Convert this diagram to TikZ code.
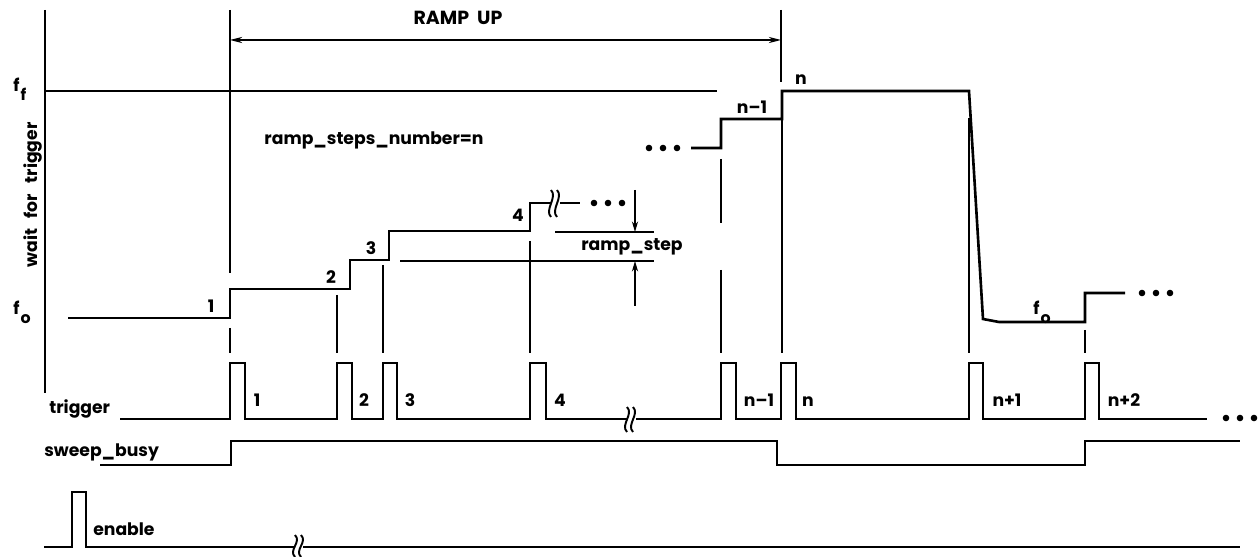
\documentclass[tikz,border=0pt]{standalone}
\usepackage{fontspec}
\setmainfont{Poppins}
\usetikzlibrary{arrows.meta}
\newcommand\brkmark[3]{%
  \draw[line width=1.1pt] (#1,#2) .. controls (#1+7,#2+7) and (#1-7,#3-7) .. (#1,#3);
  \draw[line width=1.1pt] (#1+6,#2) .. controls (#1+13,#2+7) and (#1-1,#3-7) .. (#1+6,#3);}
\newcommand\tdots[2]{\foreach \k in {0,1,2} {\fill (#1+\k*14,#2) circle[radius=3.3];}}
\newcommand\fsub[1]{f\kern0.6pt\raisebox{-4.8pt}{\fontsize{9}{10}\selectfont #1}}
\begin{document}
\begin{tikzpicture}[x=0.02cm,y=-0.02cm,line width=1.5pt,line join=miter,
  lbl/.style={font=\bfseries\fontsize{9.8}{11}\selectfont,inner sep=0pt},
  thinline/.style={line width=0.7pt},
  dimarrow/.style={thinline,-{Stealth[length=6pt,width=3.5pt]}}]
\useasboundingbox (0,0) rectangle (1259,557);
% axes and reference lines
\draw (45,10) -- (45,393);
\draw (45,91) -- (717,91);
% ramp waveform
\draw (68,318) -- (230,318) -- (230,289) -- (350,289) -- (350,260) -- (389,260) -- (389,231) -- (530,231) -- (530,203) -- (551,203);
\brkmark{551}{190}{217}
\draw (560,203) -- (580,203);
\tdots{594}{203}
\tdots{649}{148}
\draw (691,148) -- (721,148) -- (721,119) -- (782,119) -- (782,91) -- (969,91) -- (983,319) -- (999,322) -- (1085,322) -- (1085,293) -- (1125,293);
\tdots{1142}{293}
% marker lines
\draw (230,10) -- (230,273);
\draw (230,328) -- (230,353);
\draw (337,295) -- (337,353);
\draw (383,265) -- (383,353);
\draw (530,241) -- (530,353);
\draw (721,159) -- (721,223);
\draw (721,270) -- (721,353);
\draw (781,10) -- (781,82);
\draw (782,119) -- (782,353);
\draw (969,118) -- (969,353);
\draw (1085,330) -- (1085,353);
% RAMP UP dimension
\coordinate (rl) at (230,40);
\coordinate (rr) at (781,40);
\draw[thinline,{Stealth[length=7pt,width=3.5pt]}-{Stealth[length=7pt,width=3.5pt]}] (rl) -- (rr);
\node[lbl,font=\bfseries\fontsize{10.8}{12}\selectfont] (rampup) at (458,18) {RAMP\ \ UP};
% ramp_step dimension
\draw (555,232) -- (654,232);
\draw (400,261) -- (654,261);
\coordinate (a1) at (635,190);
\coordinate (a1e) at (635,232);
\coordinate (a2) at (635,306);
\coordinate (a2e) at (635,261);
\draw[dimarrow] (a1) -- (a1e);
\draw[dimarrow] (a2) -- (a2e);
\node[lbl] (rampstep) at (632,247) {ramp\_step};
\node[lbl] (rsn) at (374,140) {ramp\_steps\_number=n};
% ramp labels
\node[lbl,anchor=base] (r1) at (211,313) {1};
\node[lbl,anchor=base] (r2) at (331,284) {2};
\node[lbl,anchor=base] (r3) at (371,255) {3};
\node[lbl,anchor=base] (r4) at (518,222) {4};
\node[lbl,anchor=base] (rn1) at (752,114) {n--1};
\node[lbl,anchor=base] (rn) at (801,85) {n};
\node[lbl,anchor=base west] (fo2) at (1032,315) {\fsub{o}};
\node[lbl,anchor=base west] (ff) at (12,92) {\fsub{f}};
\node[lbl,anchor=base west] (fo) at (12,315) {\fsub{o}};
\node[lbl,rotate=90] (wft) at (33,195) {wait\hspace{6pt}for\hspace{6pt}trigger};
% trigger
\draw (120,419) -- (230,419) -- (230,363) -- (245,363) -- (245,419) -- (337,419) -- (337,363) -- (352,363) -- (352,419) -- (383,419) -- (383,363) -- (397,363) -- (397,419) -- (530,419) -- (530,363) -- (546,363) -- (546,419) -- (627,419);
\brkmark{627}{407}{432}
\draw (636,419) -- (721,419) -- (721,363) -- (736,363) -- (736,419) -- (781,419) -- (781,363) -- (796,363) -- (796,419) -- (969,419) -- (969,363) -- (983,363) -- (983,419) -- (1085,419) -- (1085,363) -- (1099,363) -- (1099,419) -- (1207,419);
\tdots{1226}{418}
\node[lbl,anchor=base west] (trig) at (48,414) {trigger};
\node[lbl,anchor=base] (t1) at (257,407) {1};
\node[lbl,anchor=base] (t2) at (364,407) {2};
\node[lbl,anchor=base] (t3) at (410,407) {3};
\node[lbl,anchor=base] (t4) at (560,407) {4};
\node[lbl,anchor=base] (tn1) at (759,407) {n--1};
\node[lbl,anchor=base] (tn) at (808,407) {n};
\node[lbl,anchor=base] (tnp1) at (1007,407) {n+1};
\node[lbl,anchor=base] (tnp2) at (1124,407) {n+2};
% sweep_busy
\draw (100,465) -- (231,465) -- (231,441) -- (777,441) -- (777,465) -- (1085,465) -- (1085,441) -- (1240,441);
\node[lbl,anchor=base west] (sb) at (43,457) {sweep\_busy};
% enable
\draw (44,547) -- (72,547) -- (72,492) -- (86,492) -- (86,547) -- (295,547);
\brkmark{295}{535}{557}
\draw (303,547) -- (1240,547);
\node[lbl,anchor=base west] (en) at (92,536) {enable};
\end{tikzpicture}
\end{document}
